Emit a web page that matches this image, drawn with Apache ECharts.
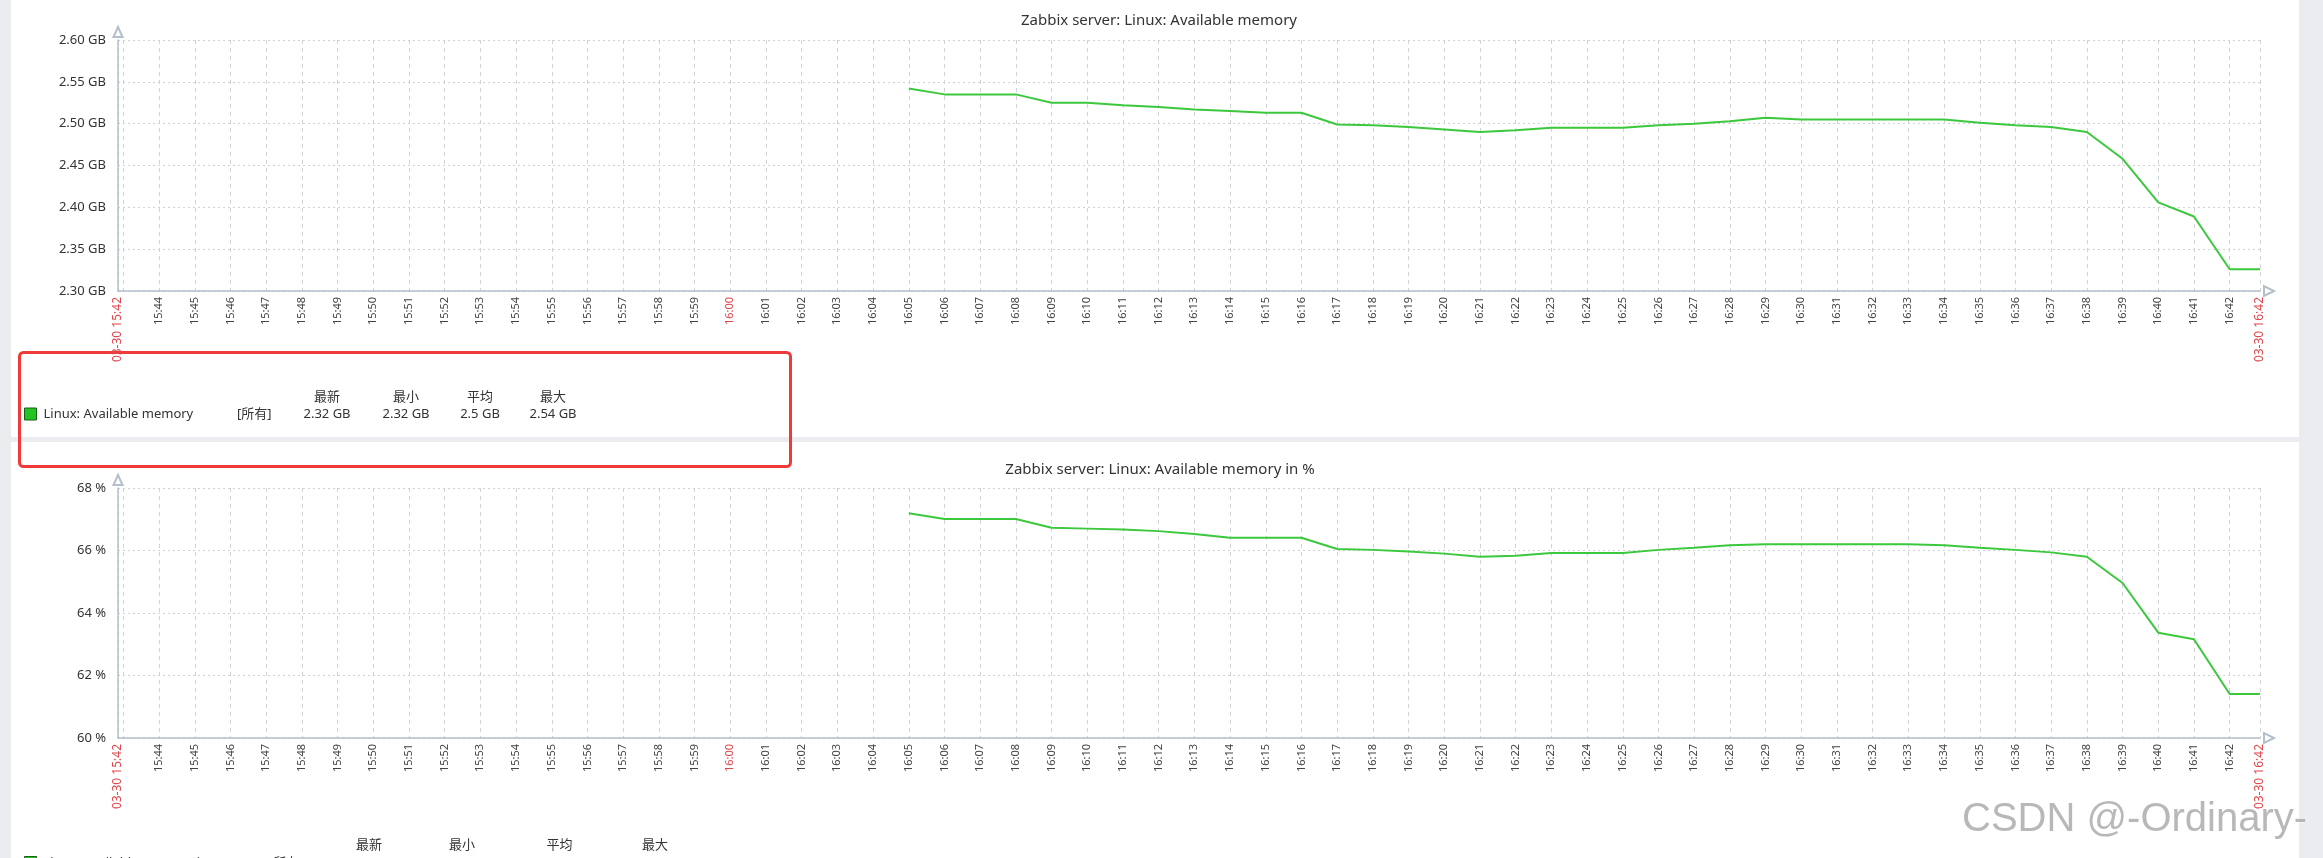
<!DOCTYPE html>
<html>
<head>
<meta charset="utf-8">
<title>Zabbix server: Linux: Available memory</title>
<script src="https://cdn.jsdelivr.net/npm/echarts@6/dist/echarts.min.js"></script>
<style>
  html, body { margin: 0; padding: 0; background: #fff; }
  #main { width: 2323px; height: 858px; }
</style>
</head>
<body>
<div id="main"></div>
<script>
// 时间范围（03-30 15:42 ~ 16:42）
const rangeStart = '15:42:51';
const rangeEnd = '16:42:51';

// 采样时间点，最后一点为右边界
const times = [
    '16:05', '16:06', '16:07', '16:08', '16:09', '16:10', '16:11', '16:12', '16:13', '16:14',
    '16:15', '16:16', '16:17', '16:18', '16:19', '16:20', '16:21', '16:22', '16:23', '16:24',
    '16:25', '16:26', '16:27', '16:28', '16:29', '16:30', '16:31', '16:32', '16:33', '16:34',
    '16:35', '16:36', '16:37', '16:38', '16:39', '16:40', '16:41', '16:42', '16:42:51'
];

// Available memory (GB)
const memGB = [
    2.542, 2.535, 2.535, 2.535, 2.525, 2.525, 2.522, 2.520, 2.517, 2.515,
    2.513, 2.513, 2.499, 2.498, 2.496, 2.493, 2.490, 2.492, 2.495, 2.495,
    2.495, 2.498, 2.500, 2.503, 2.507, 2.505, 2.505, 2.505, 2.505, 2.505,
    2.501, 2.498, 2.496, 2.490, 2.458, 2.406, 2.389, 2.326, 2.326
];

// Available memory in %
const memPct = [
    67.19, 67.01, 67.01, 67.01, 66.73, 66.70, 66.67, 66.62, 66.53, 66.41,
    66.41, 66.41, 66.05, 66.02, 65.97, 65.90, 65.80, 65.83, 65.92, 65.92,
    65.92, 66.02, 66.09, 66.17, 66.20, 66.20, 66.20, 66.20, 66.20, 66.17,
    66.09, 66.02, 65.94, 65.80, 64.96, 63.37, 63.16, 61.41, 61.41
];

// 图例统计
const statHeaders = ['最新', '最小', '平均', '最大'];
const statsGB = ['2.32 GB', '2.32 GB', '2.5 GB', '2.54 GB'];
const statsPct = ['61.4131 %', '61.4131 %', '65.9454 %', '67.1904 %'];

const FONT = '"Noto Sans", "Noto Sans CJK SC", sans-serif';
const GREEN = '#3cc83c';
const AXIS_COLOR = '#b4bfca';
const GRID_COLOR = '#cfd3d8';
const RED = '#e0474c';

function toTs(hms) {
    const p = hms.split(':').map(Number);
    return new Date(2023, 2, 30, p[0], p[1], p[2] || 0).getTime();
}
const tStart = toTs(rangeStart);
const tEnd = toTs(rangeEnd);

const pad = n => (n < 10 ? '0' : '') + n;
const hhmm = v => { const d = new Date(v); return pad(d.getHours()) + ':' + pad(d.getMinutes()); };

function timeLabel(value) {
    if (value - tStart < 30000 || tEnd - value < 1000) return '';   // 起止标签单独画
    const hm = hhmm(value);
    if (new Date(value).getMinutes() === 0) return '{red|' + hm + '}';
    return hm;
}

function makeXAxis(gridIndex) {
    return {
        type: 'time',
        gridIndex: gridIndex,
        min: tStart,
        max: tEnd,
        minInterval: 60000,
        maxInterval: 60000,
        splitNumber: 60,
        axisLine: {
            show: true,
            lineStyle: { color: AXIS_COLOR, width: 1.5 },
            symbol: ['none', 'emptyTriangle'],
            symbolSize: [10, 10],
            symbolOffset: [0, 9]
        },
        axisTick: { show: false },
        axisLabel: {
            rotate: 90,
            interval: 0,
            margin: 6,
            fontSize: 11,
            fontFamily: FONT,
            color: '#444',
            formatter: timeLabel,
            rich: { red: { color: RED, fontSize: 11, fontFamily: FONT } }
        },
        splitLine: { show: true, lineStyle: { color: GRID_COLOR, type: [4, 4], width: 1 } }
    };
}

function makeYAxis(gridIndex, min, max, interval, fmt) {
    return {
        type: 'value',
        gridIndex: gridIndex,
        min: min,
        max: max,
        interval: interval,
        axisLine: {
            show: true,
            lineStyle: { color: AXIS_COLOR, width: 1.5 },
            symbol: ['none', 'emptyTriangle'],
            symbolSize: [9, 10],
            symbolOffset: [0, 8]
        },
        axisTick: { show: false },
        axisLabel: { margin: 12, fontSize: 13, fontFamily: FONT, color: '#333', formatter: fmt },
        splitLine: { show: true, lineStyle: { color: GRID_COLOR, type: [2, 3], width: 1 } }
    };
}

// 图例块（Zabbix 风格）
function legendBlock(headerY, rowY, name, allX, centers, stats) {
    const txt = (x, y, text, align) => ({
        type: 'text', x: x, y: y, silent: true,
        style: {
            text: text, fill: '#333', font: '13px ' + FONT,
            textAlign: align, textVerticalAlign: 'middle', align: align, verticalAlign: 'middle'
        }
    });
    const els = [
        { type: 'rect', silent: true, shape: { x: 24.5, y: rowY - 6.5, width: 12, height: 12 },
          style: { fill: '#22c322', stroke: '#1a5e1a', lineWidth: 1 } },
        txt(43.5, rowY, name, 'left'),
        txt(allX, rowY, '[所有]', 'left')
    ];
    statHeaders.forEach((h, i) => {
        els.push(txt(centers[i], headerY, h, 'center'));
        els.push(txt(centers[i], rowY, stats[i], 'center'));
    });
    return els;
}

const chart = echarts.init(document.getElementById('main'));

const option = {
    animation: false,
    backgroundColor: '#fff',
    title: [
        { text: 'Zabbix server: Linux: Available memory', left: 1154, top: 8, textAlign: 'center',
          textStyle: { fontSize: 15, fontWeight: 'normal', color: '#333', fontFamily: FONT } },
        { text: 'Zabbix server: Linux: Available memory in %', left: 1155, top: 457, textAlign: 'center',
          textStyle: { fontSize: 15, fontWeight: 'normal', color: '#333', fontFamily: FONT } }
    ],
    grid: [
        { left: 118, top: 40, width: 2142, height: 251, containLabel: false },
        { left: 118, top: 488, width: 2142, height: 250, containLabel: false }
    ],
    xAxis: [makeXAxis(0), makeXAxis(1)],
    yAxis: [
        makeYAxis(0, 2.3, 2.6, 0.05, v => v.toFixed(2) + ' GB'),
        makeYAxis(1, 60, 68, 2, v => v + ' %')
    ],
    series: [
        {
            name: 'Linux: Available memory',
            type: 'line',
            xAxisIndex: 0, yAxisIndex: 0,
            showSymbol: false,
            lineStyle: { color: GREEN, width: 2 },
            data: times.map((t, i) => [toTs(t), memGB[i]])
        },
        {
            name: 'Linux: Available memory in %',
            type: 'line',
            xAxisIndex: 1, yAxisIndex: 1,
            showSymbol: false,
            lineStyle: { color: GREEN, width: 2 },
            data: times.map((t, i) => [toTs(t), memPct[i]])
        }
    ],
    graphic: [
        // 页面灰色边框
        { type: 'rect', silent: true, z: -10, shape: { x: 0, y: 0, width: 11, height: 858 }, style: { fill: '#eaecef' } },
        { type: 'rect', silent: true, z: -10, shape: { x: 2299, y: 0, width: 24, height: 858 }, style: { fill: '#eaecef' } },
        { type: 'rect', silent: true, z: -10, shape: { x: 11, y: 437, width: 2288, height: 5 }, style: { fill: '#eaecef' } },
        ...legendBlock(397, 414.5, 'Linux: Available memory', 237, [327, 406, 480, 553], statsGB),
        ...legendBlock(845, 863, 'Linux: Available memory in %', 269, [369, 462, 559.5, 655], statsPct),
        // 红色标注框
        { type: 'rect', silent: true, shape: { x: 19.5, y: 352.5, width: 771, height: 114, r: 4 },
          style: { fill: 'none', stroke: '#f03a3a', lineWidth: 3 } },
        // 水印
        { type: 'text', silent: true, x: 1962, y: 820,
          style: { text: 'CSDN @-Ordinary-', font: '40px "Liberation Sans", Arial, sans-serif',
                   fill: 'rgba(160,160,160,0.75)', stroke: 'rgba(255,255,255,0.8)', lineWidth: 1,
                   textAlign: 'left', textVerticalAlign: 'middle', align: 'left', verticalAlign: 'middle' } }
    ]
};

chart.setOption(option);

// 起止时间标签（红色，带日期），位置由坐标轴换算
function edgeLabels() {
    const els = [];
    [0, 1].forEach(g => {
        const yMin = g === 0 ? 2.3 : 60;
        [tStart, tEnd].forEach(t => {
            const p = chart.convertToPixel({ xAxisIndex: g, yAxisIndex: g }, [t, yMin]);
            els.push({
                type: 'text', silent: true, x: p[0], y: p[1] + 6, rotation: Math.PI / 2,
                style: {
                    text: '03-30 ' + hhmm(t), fill: RED, font: '12px ' + FONT,
                    textAlign: 'right', textVerticalAlign: 'middle', align: 'right', verticalAlign: 'middle'
                }
            });
        });
    });
    return els;
}
chart.setOption({ graphic: option.graphic.concat(edgeLabels()) });

window.addEventListener('resize', () => chart.resize());
</script>
</body>
</html>
